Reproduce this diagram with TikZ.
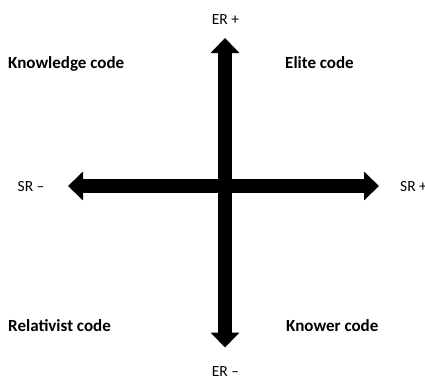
\documentclass[tikz,border=0pt]{standalone}
\usepackage{fontspec}
\setmainfont{Carlito}
\usetikzlibrary{arrows.meta}
\tikzset{
  axis/.style = {line width=14.5pt,
                 {Triangle[width=28pt,length=15pt]}-{Triangle[width=28pt,length=15pt]}},
  pole/.style = {inner sep=0pt, anchor=base, font=\fontsize{15.5}{18}\selectfont},
  code/.style = {inner sep=0pt, anchor=base west, font=\fontsize{17}{20}\selectfont\bfseries}
}

\begin{document}
\begin{tikzpicture}
  [
    x = 1pt,
    y = -1pt
  ]
  \useasboundingbox (0,0) rectangle (425,378);
  % arrow ends
  \coordinate (srminus) at (68,186);
  \coordinate (srplus)  at (379,186);
  \coordinate (erplus)  at (225,38);
  \coordinate (erminus) at (225,347.5);
  \draw [axis] (srminus) -- (srplus);
  \draw [axis] (erminus) -- (erplus);
  % pole labels
  \node [pole] (ertop) at (225.5,24) {ER +};
  \node [pole] (erbot) at (225.5,376) {ER \textendash};
  \node [pole, anchor=base west] (srleft)  at (17.5,191.5) {SR \textendash};
  \node [pole, anchor=base west] (srright) at (400,191.5) {SR +};
  % quadrants
  \node [code] (knowledge)  at (8,68)    {Knowledge code};
  \node [code] (elite)      at (285,68)  {Elite code};
  \node [code] (relativist) at (8,331)   {Relativist code};
  \node [code] (knower)     at (286,331) {Knower code};
\end{tikzpicture}
\end{document}
